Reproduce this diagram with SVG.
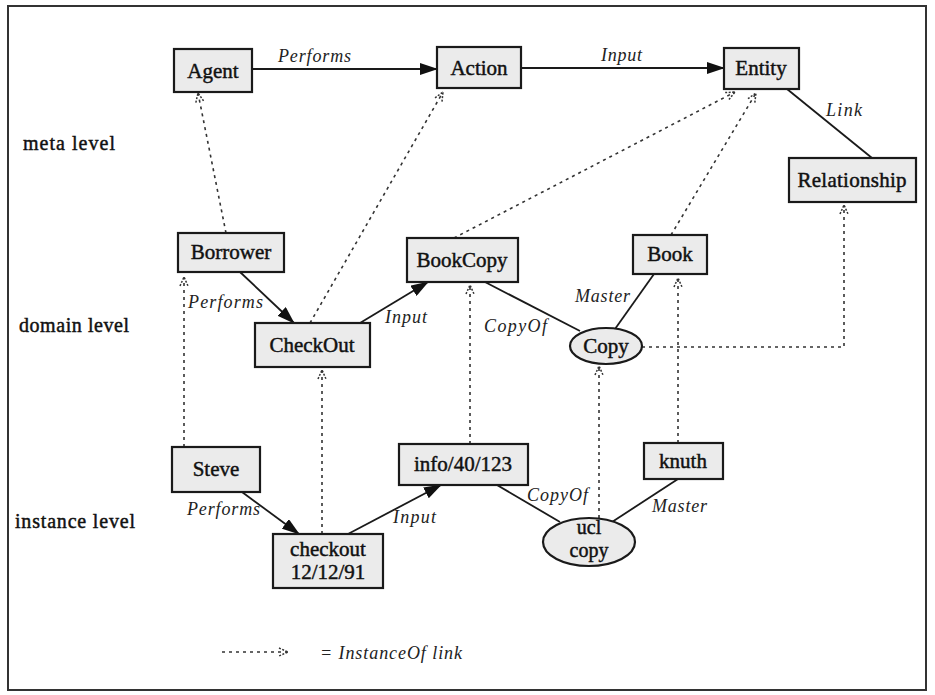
<svg xmlns="http://www.w3.org/2000/svg" width="935" height="695" viewBox="0 0 935 695">
<style>
.node{fill:#ebebeb;stroke:#1a1a1a;stroke-width:2.2}
.nt{font-family:"Liberation Serif",serif;font-size:21px;fill:#111;stroke:#111;stroke-width:0.45;text-anchor:middle}
.lvl{font-family:"Liberation Serif",serif;font-size:20px;fill:#111;stroke:#111;stroke-width:0.45}
.el{font-family:"Liberation Serif",serif;font-style:italic;font-size:18px;fill:#222}
.solid{stroke:#1a1a1a;stroke-width:1.8;fill:none}
.inst{stroke:#333;stroke-width:1.6;fill:none;stroke-dasharray:3 4}
</style>
<defs>
<marker id="ah" markerUnits="userSpaceOnUse" markerWidth="18" markerHeight="12" refX="17" refY="6" orient="auto">
<path d="M0,0 L18,6 L0,12 z" fill="#111"/>
</marker>
<marker id="ih" markerUnits="userSpaceOnUse" markerWidth="12" markerHeight="10" refX="10" refY="5" orient="auto">
<path d="M1,1 L10,5 L1,9" fill="none" stroke="#333" stroke-width="1.5" stroke-dasharray="2 1.5"/>
</marker>
</defs>
<rect x="8" y="6" width="918" height="684" fill="#fff" stroke="#333" stroke-width="2"/>
<g id="levels">
<text class="lvl" x="23" y="150" textLength="92">meta level</text>
<text class="lvl" x="19" y="332" textLength="110">domain level</text>
<text class="lvl" x="15" y="528" textLength="120">instance level</text>
</g>
<g id="connectors">
<line class="solid" x1="252" y1="69" x2="437" y2="69" marker-end="url(#ah)"/>
<line class="solid" x1="521" y1="68" x2="724" y2="68" marker-end="url(#ah)"/>
<line class="solid" x1="787" y1="89" x2="872" y2="158"/>
<line class="solid" x1="240" y1="272" x2="294" y2="323" marker-end="url(#ah)"/>
<line class="solid" x1="360" y1="323" x2="428" y2="282" marker-end="url(#ah)"/>
<line class="solid" x1="485" y1="282" x2="580" y2="331"/>
<line class="solid" x1="654" y1="274" x2="615" y2="329"/>
<line class="solid" x1="242" y1="492" x2="299" y2="534" marker-end="url(#ah)"/>
<line class="solid" x1="348" y1="534" x2="441" y2="485" marker-end="url(#ah)"/>
<line class="solid" x1="497" y1="485" x2="560" y2="522"/>
<line class="solid" x1="678" y1="479" x2="612" y2="522"/>
<line class="inst" x1="226" y1="233" x2="198" y2="93" marker-end="url(#ih)"/>
<line class="inst" x1="310" y1="323" x2="443" y2="92" marker-end="url(#ih)"/>
<line class="inst" x1="454" y1="238" x2="735" y2="92" marker-end="url(#ih)"/>
<line class="inst" x1="671" y1="235" x2="756" y2="93" marker-end="url(#ih)"/>
<line class="inst" x1="184" y1="447" x2="184" y2="277" marker-end="url(#ih)"/>
<line class="inst" x1="322" y1="534" x2="322" y2="370" marker-end="url(#ih)"/>
<line class="inst" x1="470" y1="444" x2="470" y2="285" marker-end="url(#ih)"/>
<line class="inst" x1="599" y1="518" x2="599" y2="366" marker-end="url(#ih)"/>
<line class="inst" x1="678" y1="443" x2="678" y2="278" marker-end="url(#ih)"/>
<polyline class="inst" points="642,347 844,347 844,205" marker-end="url(#ih)"/>
<text class="el" x="278" y="62" textLength="73">Performs</text>
<text class="el" x="601" y="61" textLength="41">Input</text>
<text class="el" x="826" y="116" textLength="36">Link</text>
<text class="el" x="188" y="308" textLength="75">Performs</text>
<text class="el" x="385" y="323" textLength="42">Input</text>
<text class="el" x="484" y="332" textLength="63">CopyOf</text>
<text class="el" x="575" y="302" textLength="55">Master</text>
<text class="el" x="187" y="515" textLength="73">Performs</text>
<text class="el" x="393" y="523" textLength="43">Input</text>
<text class="el" x="527" y="501" textLength="61">CopyOf</text>
<text class="el" x="652" y="512" textLength="55">Master</text>
</g>
<g id="Agent"><rect class="node" x="174" y="49" width="78" height="43"/><text class="nt" x="213" y="78">Agent</text></g>
<g id="Action"><rect class="node" x="437" y="47" width="84" height="41"/><text class="nt" x="479" y="75">Action</text></g>
<g id="Entity"><rect class="node" x="724" y="48" width="75" height="41"/><text class="nt" x="761" y="75">Entity</text></g>
<g id="Relationship"><rect class="node" x="789" y="158" width="127" height="44"/><text class="nt" x="852" y="187" textLength="109">Relationship</text></g>
<g id="Borrower"><rect class="node" x="178" y="233" width="106" height="39"/><text class="nt" x="231" y="259">Borrower</text></g>
<g id="BookCopy"><rect class="node" x="407" y="238" width="111" height="44"/><text class="nt" x="462" y="267">BookCopy</text></g>
<g id="CheckOut"><rect class="node" x="255" y="323" width="115" height="44"/><text class="nt" x="312" y="352">CheckOut</text></g>
<g id="Book"><rect class="node" x="633" y="235" width="74" height="39"/><text class="nt" x="670" y="261">Book</text></g>
<g id="Copy"><ellipse class="node" cx="606" cy="346" rx="36" ry="18"/><text class="nt" x="606" y="353">Copy</text></g>
<g id="Steve"><rect class="node" x="172" y="447" width="88" height="45"/><text class="nt" x="216" y="476">Steve</text></g>
<g id="info40123"><rect class="node" x="399" y="444" width="129" height="41"/><text class="nt" x="463" y="471">info/40/123</text></g>
<g id="checkout1212"><rect class="node" x="273" y="534" width="110" height="54"/><text class="nt" x="328" y="556">checkout</text><text class="nt" x="328" y="579">12/12/91</text></g>
<g id="knuth"><rect class="node" x="644" y="443" width="79" height="36"/><text class="nt" x="683" y="468">knuth</text></g>
<g id="uclcopy"><ellipse class="node" cx="589" cy="542" rx="46" ry="24"/><text class="nt" x="589" y="534" style="font-size:20px">ucl</text><text class="nt" x="589" y="557" style="font-size:20px">copy</text></g>
<g id="legend">
<line class="inst" x1="222" y1="652" x2="288" y2="652" marker-end="url(#ih)"/>
<text class="el" x="320" y="659" textLength="142">= InstanceOf link</text>
</g>
</svg>
